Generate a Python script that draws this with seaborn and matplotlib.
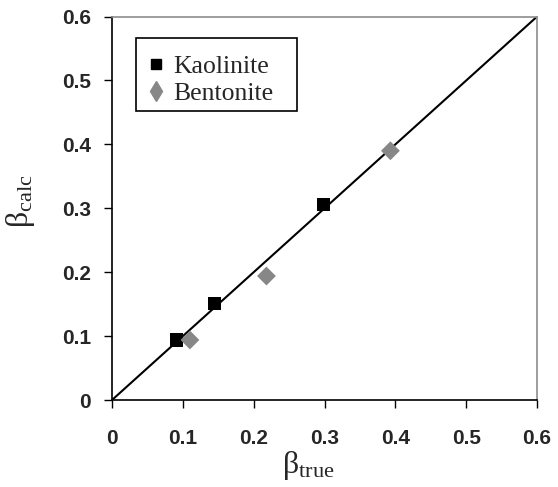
import matplotlib
matplotlib.use("Agg")
import matplotlib.pyplot as plt
import seaborn as sns
import pandas as pd
from matplotlib.lines import Line2D
from matplotlib.patches import Rectangle

sns.set_style("white")
plt.rcParams["font.family"] = ["Liberation Sans", "DejaVu Sans"]
plt.rcParams["mathtext.fontset"] = "custom"
plt.rcParams["mathtext.rm"] = "Liberation Serif"
plt.rcParams["mathtext.it"] = "Liberation Serif"

# Measured vs. calculated beta for two clays
kaolinite_true = [0.091, 0.145, 0.299]
kaolinite_calc = [0.094, 0.151, 0.306]
bentonite_true = [0.110, 0.218, 0.393]
bentonite_calc = [0.094, 0.194, 0.390]
ticks = [0, 0.1, 0.2, 0.3, 0.4, 0.5, 0.6]
tick_labels = ["0", "0.1", "0.2", "0.3", "0.4", "0.5", "0.6"]

kaolinite = pd.DataFrame({"true": kaolinite_true, "calc": kaolinite_calc})
bentonite = pd.DataFrame({"true": bentonite_true, "calc": bentonite_calc})

GREY = "#878787"

fig = plt.figure(figsize=(5.58, 4.87), dpi=100)
ax = fig.add_axes([0.2007, 0.1786, 0.7618, 0.7874])

# 1:1 reference line
ax.plot([0, 0.6], [0, 0.6], color="black", lw=1.5, zorder=1)

sns.scatterplot(data=kaolinite, x="true", y="calc", marker="s", color="black",
                s=90, edgecolor="none", linewidth=0, legend=False, ax=ax, zorder=3)
sns.scatterplot(data=bentonite, x="true", y="calc", marker="D", color=GREY,
                s=92, edgecolor="none", linewidth=0, legend=False, ax=ax, zorder=3)

ax.set_xlim(0, 0.6)
ax.set_ylim(0, 0.6)
ax.set_xticks(ticks)
ax.set_yticks(ticks)
ax.set_xticklabels(tick_labels, fontsize=15, fontweight="bold")
ax.set_yticklabels(tick_labels, fontsize=15, fontweight="bold")
ax.tick_params(axis="both", direction="out", length=6, width=1, color="black",
               bottom=True, left=True, top=False, right=False)
ax.tick_params(axis="x", pad=15)
ax.tick_params(axis="y", pad=9)

ax.set_xlabel(r"$\mathrm{β}_{\mathrm{true}}$", fontsize=23)
ax.set_ylabel(r"$\mathrm{β}_{\mathrm{calc}}$", fontsize=23)
ax.xaxis.set_label_coords(0.461, -0.128)
ax.yaxis.set_label_coords(-0.176, 0.518)

for side in ("left", "bottom"):
    ax.spines[side].set_color("black")
    ax.spines[side].set_linewidth(1.2)
for side in ("top", "right"):
    ax.spines[side].set_color("#8c8c8c")
    ax.spines[side].set_linewidth(1.2)

# Legend box drawn as its own rectangle, entries placed inside it
ax.add_patch(Rectangle((0.0565, 0.945), 0.379, -0.19, transform=ax.transAxes,
                       facecolor="white", edgecolor="black", lw=1.2, zorder=4))
handles = [
    Line2D([], [], marker="s", color="black", ls="none", markersize=7.5),
    Line2D([], [], marker="d", color=GREY, ls="none", markersize=10.2),
]
leg = ax.legend(handles, ["Kaolinite", "Bentonite"], loc="center left",
                bbox_to_anchor=(0.0894, 0.835), frameon=False,
                handlelength=0.5, handletextpad=0.41, borderpad=0,
                borderaxespad=0, labelspacing=0.15,
                prop={"family": "Liberation Serif", "size": 18.5})
leg.set_zorder(5)

fig.savefig("out.png", dpi=100)
